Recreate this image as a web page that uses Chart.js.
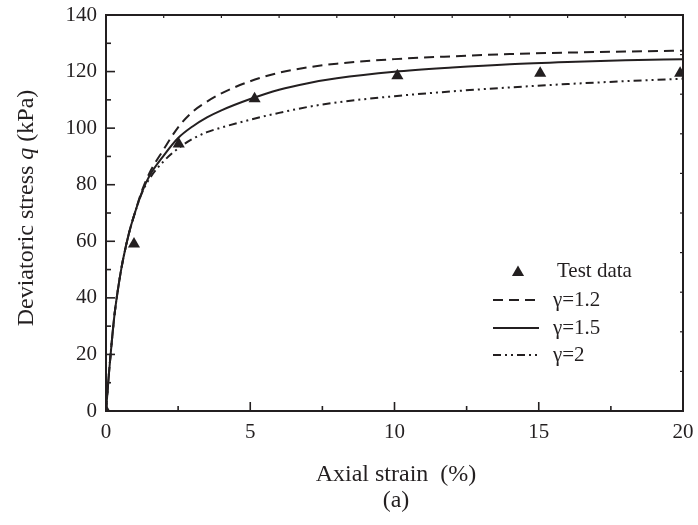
<!DOCTYPE html>
<html>
<head>
<meta charset="utf-8">
<script src="https://cdn.jsdelivr.net/npm/chart.js@4.4.0/dist/chart.umd.min.js"></script>
<style>
html,body{margin:0;padding:0;background:#fff;}
#wrap{width:698px;height:525px;position:relative;}
</style>
</head>
<body>
<div id="wrap"><canvas id="c" width="698" height="525"></canvas></div>
<script>
// ---- data ----
const seriesLabels = ['Test data', 'γ=1.2', 'γ=1.5', 'γ=2'];
const testStrain = [0, 0.97, 2.52, 5.15, 10.1, 15.05, 19.9];
const testStress = [0, 59.0, 94.4, 110.4, 118.5, 119.4, 119.4];

const modelStrain = [0, 0.05, 0.1, 0.2, 0.3, 0.4, 0.5, 0.6, 0.8, 1.0, 1.25, 1.5, 2, 2.5, 3, 3.5, 4, 5, 6, 7, 8, 10, 12, 14, 16, 18, 20];
const stressGamma12 = [0, 6.5, 13, 24.5, 34.5, 42, 48.5, 54, 63, 70, 78, 84, 92.5, 100.3, 105.8, 109.4, 112.3, 116.6, 119.6, 121.5, 122.8, 124.4, 125.4, 126.2, 126.7, 127.1, 127.4];
const stressGamma15 = [0, 6.5, 13, 24.5, 34.5, 42, 48.5, 54, 63, 70, 77.5, 83, 90.3, 96.5, 100.6, 103.8, 106.3, 110.3, 113.6, 115.9, 117.6, 119.9, 121.4, 122.6, 123.4, 124.0, 124.4];
const stressGamma2 = [0, 6.5, 13, 24.5, 34.5, 42, 48.5, 54, 63, 70, 77.2, 82, 88.3, 92.8, 96.2, 98.6, 100.2, 103.0, 105.4, 107.5, 109.1, 111.3, 113.0, 114.4, 115.6, 116.6, 117.5];

const xMajorTicks = [0, 5, 10, 15, 20];
const xMinorTicks = [2.5, 7.5, 12.5, 17.5];
const yMajorTicks = [0, 20, 40, 60, 80, 100, 120, 140];
const yMinorTicks = [10, 30, 50, 70, 90, 110, 130];
const topTicks = [2, 4, 6, 8, 10, 12, 14, 16, 18];
const rightTicks = [14, 28, 42, 56, 70, 84, 98, 112, 126];

const xTitle = 'Axial strain  (%)';
const yTitleParts = ['Deviatoric stress ', 'q', ' (kPa)'];
const caption = '(a)';

// ---- styling ----
const ink = '#231f20';
const serif = "'Liberation Serif', 'Times New Roman', serif";
const pts = (xs, ys) => xs.map((v, i) => ({x: v, y: ys[i]}));

const decor = {
  id: 'decor',
  afterDatasetsDraw(chart) {
    const {ctx, chartArea: a, scales} = chart;
    const sx = scales.x, sy = scales.y;
    ctx.save();
    ctx.strokeStyle = ink;
    ctx.fillStyle = ink;
    ctx.setLineDash([]);
    ctx.lineWidth = 2;
    ctx.beginPath();
    ctx.moveTo(a.left, a.top); ctx.lineTo(a.right, a.top); ctx.lineTo(a.right, a.bottom);
    ctx.stroke();
    const seg = (x1, y1, x2, y2) => { ctx.beginPath(); ctx.moveTo(x1, y1); ctx.lineTo(x2, y2); ctx.stroke(); };
    ctx.lineWidth = 1.6;
    xMajorTicks.forEach(v => { const p = sx.getPixelForValue(v); seg(p, a.bottom, p, a.bottom - 9); });
    xMinorTicks.forEach(v => { const p = sx.getPixelForValue(v); seg(p, a.bottom, p, a.bottom - 5); });
    yMajorTicks.forEach(v => { const p = sy.getPixelForValue(v); seg(a.left, p, a.left + 9, p); });
    yMinorTicks.forEach(v => { const p = sy.getPixelForValue(v); seg(a.left, p, a.left + 5, p); });
    ctx.lineWidth = 1.2;
    topTicks.forEach(v => { const p = sx.getPixelForValue(v); seg(p, a.top, p, a.top + 3); });
    rightTicks.forEach(v => { const p = sy.getPixelForValue(v); seg(a.right, p, a.right - 3, p); });

    // legend
    const ds = chart.data.datasets;
    const rowY = [271, 300, 328, 355];
    const lx0 = 493, lx1 = 539, tx = 553;
    ctx.font = '21px ' + serif;
    ctx.textBaseline = 'middle';
    ctx.textAlign = 'left';
    ds.forEach((d, i) => {
      const yy = rowY[i];
      if (d.showLine) {
        ctx.save();
        ctx.lineWidth = d.borderWidth;
        ctx.setLineDash(d.borderDash || []);
        seg(lx0, yy, lx1, yy);
        ctx.restore();
      } else {
        const r = 7;
        const cx = (lx0 + lx1) / 2 + 2, cy = yy + 1.5;
        ctx.beginPath();
        ctx.moveTo(cx, cy - r);
        ctx.lineTo(cx + r * Math.sqrt(3) / 2, cy + r / 2);
        ctx.lineTo(cx - r * Math.sqrt(3) / 2, cy + r / 2);
        ctx.closePath();
        ctx.fill();
      }
      ctx.fillText(d.label, i === 0 ? tx + 4 : tx, yy);
    });

    // axis titles
    ctx.font = '24px ' + serif;
    ctx.textAlign = 'center';
    ctx.textBaseline = 'alphabetic';
    ctx.fillText(xTitle, 396, 481);
    ctx.fillText(caption, 396, 507);

    ctx.save();
    ctx.translate(33, 208);
    ctx.rotate(-Math.PI / 2);
    const fonts = ['24px ' + serif, 'italic 24px ' + serif, '24px ' + serif];
    let total = 0;
    const widths = yTitleParts.map((t, i) => { ctx.font = fonts[i]; const w = ctx.measureText(t).width; total += w; return w; });
    let cur = -total / 2;
    ctx.textAlign = 'left';
    yTitleParts.forEach((t, i) => { ctx.font = fonts[i]; ctx.fillText(t, cur, 0); cur += widths[i]; });
    ctx.restore();
    ctx.restore();
  }
};

const tickFont = {family: serif, size: 21};
const noOverflow = s => { s.paddingTop = 0; s.paddingBottom = 0; s.paddingLeft = 0; s.paddingRight = 0; };

new Chart(document.getElementById('c'), {
  type: 'scatter',
  data: {
    datasets: [
      {label: seriesLabels[0], data: pts(testStrain, testStress), showLine: false,
       pointStyle: 'triangle', pointRadius: 7, pointBorderWidth: 0, backgroundColor: ink, borderColor: ink, clip: 0},
      {label: seriesLabels[1], data: pts(modelStrain, stressGamma12), showLine: true, pointRadius: 0,
       borderColor: ink, borderWidth: 2, borderDash: [10, 6], cubicInterpolationMode: 'monotone'},
      {label: seriesLabels[2], data: pts(modelStrain, stressGamma15), showLine: true, pointRadius: 0,
       borderColor: ink, borderWidth: 2, borderDash: [], cubicInterpolationMode: 'monotone'},
      {label: seriesLabels[3], data: pts(modelStrain, stressGamma2), showLine: true, pointRadius: 0,
       borderColor: ink, borderWidth: 2, borderDash: [8, 4, 2, 4, 2, 4], cubicInterpolationMode: 'monotone'}
    ]
  },
  options: {
    responsive: false,
    animation: false,
    devicePixelRatio: 1,
    layout: {padding: {top: 15, right: 15, left: 0, bottom: 0}},
    plugins: {legend: {display: false}, tooltip: {enabled: false}},
    scales: {
      x: {
        type: 'linear', min: 0, max: 20,
        ticks: {stepSize: 5, padding: 9, font: tickFont, color: ink, maxRotation: 0},
        grid: {display: false, drawTicks: false},
        border: {display: true, color: ink, width: 2},
        afterFit(s) { s.height = 114; noOverflow(s); }
      },
      y: {
        type: 'linear', min: 0, max: 140,
        ticks: {stepSize: 20, padding: 9, font: tickFont, color: ink},
        grid: {display: false, drawTicks: false},
        border: {display: true, color: ink, width: 2},
        afterFit(s) { s.width = 106; noOverflow(s); }
      }
    }
  },
  plugins: [decor]
});
</script>
</body>
</html>
